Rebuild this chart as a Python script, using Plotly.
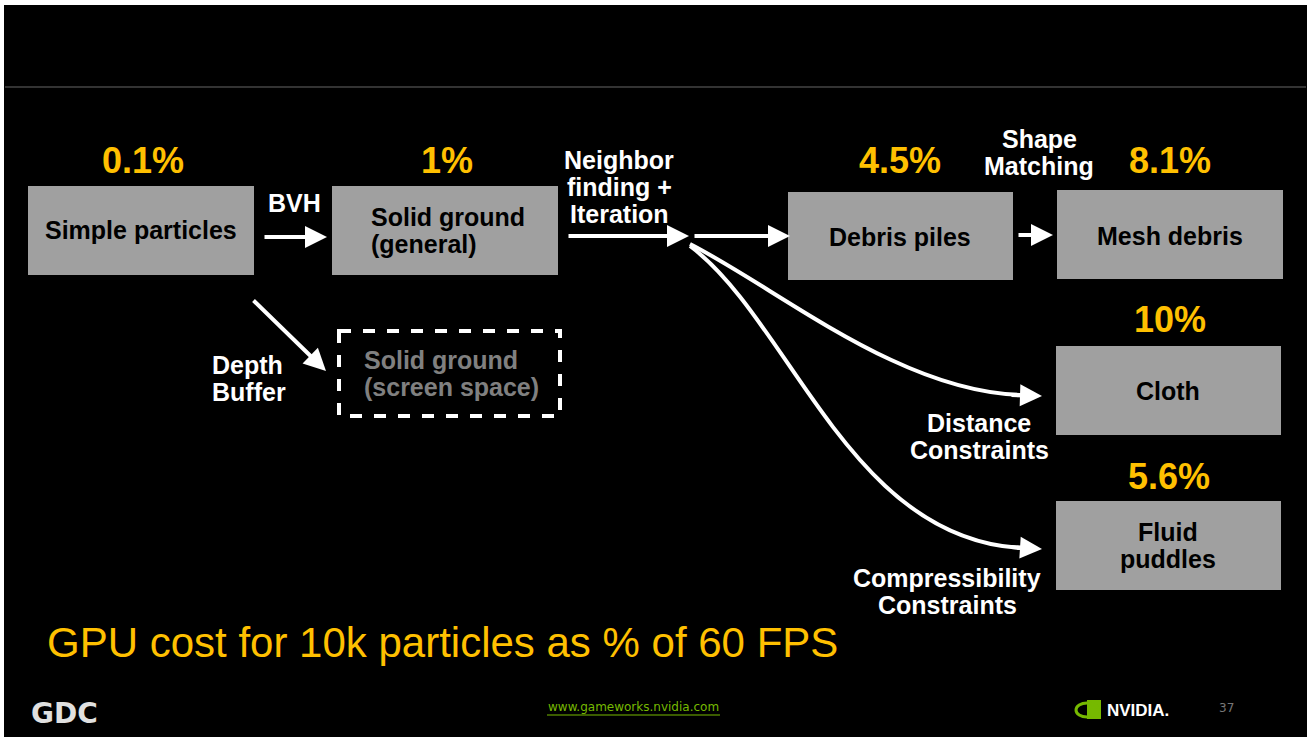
import plotly.graph_objects as go

# ---- data ----
stages = ["Simple particles", "Solid ground|(general)", "Debris piles",
          "Mesh debris", "Cloth", "Fluid|puddles"]
cost_pct = [0.1, 1, 4.5, 8.1, 10, 5.6]
edge_labels = ["BVH", "Neighbor|finding +|Iteration", "Shape|Matching",
               "Depth|Buffer", "Distance|Constraints", "Compressibility|Constraints"]
alt_stage = "Solid ground|(screen space)"
caption = "GPU cost for 10k particles as % of 60 FPS"
footer_url = "www.gameworks.nvidia.com"
page_no = "37"

# ---- layout geometry (pixels) ----
W, H = 1311, 737
box_rects = [(28, 186, 254, 275), (332, 186, 558, 275), (788, 192, 1013, 280),
             (1057, 190, 1283, 279), (1056, 346, 1281, 435), (1056, 501, 1281, 590)]
box_text_pos = [(141, 230, "center"), (369, 230, "left"), (900, 237, "center"),
                (1170, 236, "center"), (1168, 391, "center"), (1168, 545, "center")]
pct_pos = [(143, 160), (447, 160), (900, 160), (1170, 160), (1170, 319), (1169, 476)]
edge_label_pos = [(294, 203, "center"), (619, 160, "center"), (1039, 139, "center"),
                  (210, 365, "left"), (979, 423, "center"), (947, 578, "center")]
LINE = 27

BOX_GRAY = "#a0a0a0"
YEL = "#FFC000"
FONT = "Liberation Sans, Arial, sans-serif"
TXT = 25

fig = go.Figure()
fig.add_trace(go.Scatter(x=[0, W], y=[0, H], mode="markers",
                         marker=dict(opacity=0), hoverinfo="skip", showlegend=False))

shapes = []
ann = []

# slide background
shapes.append(dict(type="rect", xref="x", yref="y", x0=4, y0=5, x1=1307, y1=737,
                   fillcolor="black", line=dict(width=0), layer="below"))
shapes.append(dict(type="line", xref="x", yref="y", x0=5, y0=87, x1=1306, y1=87,
                   line=dict(color="#444444", width=1.5)))


def add_lines(text, x, y, align, size, color, bold=True, family=FONT, spacing=LINE):
    parts = text.split("|")
    n = len(parts)
    for i, p in enumerate(parts):
        yy = y + (i - (n - 1) / 2) * spacing
        ann.append(dict(x=x, y=yy, xref="x", yref="y", showarrow=False,
                        text=f"<b>{p}</b>" if bold else p,
                        xanchor="left" if align == "left" else "center", yanchor="middle",
                        font=dict(family=family, size=size, color=color)))


# boxes
for (x0, y0, x1, y1), label, (tx, ty, al), v, (px, py) in zip(
        box_rects, stages, box_text_pos, cost_pct, pct_pos):
    shapes.append(dict(type="rect", xref="x", yref="y", x0=x0, y0=y0, x1=x1, y1=y1,
                       fillcolor=BOX_GRAY, line=dict(width=0)))
    add_lines(label, tx, ty, al, TXT, "black")
    ann.append(dict(x=px, y=py, xref="x", yref="y", showarrow=False,
                    text=f"<b>{v:g}%</b>", xanchor="center", yanchor="middle",
                    font=dict(family=FONT, size=36, color=YEL)))

# dashed alternative box
shapes.append(dict(type="rect", xref="x", yref="y", x0=339, y0=331, x1=560, y1=416,
                   line=dict(color="white", width=4, dash="dash")))
add_lines(alt_stage, 362, 373, "left", TXT, "#808080")

# edge labels
for label, (x, y, al) in zip(edge_labels, edge_label_pos):
    parts = label.split("|")
    for i, p in enumerate(parts):
        ann.append(dict(x=x, y=y + i * LINE, xref="x", yref="y", showarrow=False,
                        text=f"<b>{p}</b>",
                        xanchor="left" if al == "left" else "center", yanchor="middle",
                        font=dict(family=FONT, size=TXT, color="white")))

# straight arrows (tail -> head)
straight = [((263, 237), (327, 237)), ((567, 236), (689, 236)),
            ((693, 236), (790, 236)), ((1017, 235), (1053, 235)),
            ((252, 299), (326, 371))]
for (tx, ty), (hx, hy) in straight:
    ann.append(dict(x=hx, y=hy, ax=tx, ay=ty, xref="x", yref="y", axref="x", ayref="y",
                    showarrow=True, arrowhead=2, arrowsize=1.1, arrowwidth=4,
                    arrowcolor="white", text=""))

# curved connectors
curves = [("M 690,244 C 780,290 900,392 1022,395", (1010, 395), (1042, 396)),
          ("M 690,246 C 790,320 850,540 1022,548", (1010, 547), (1042, 549))]
for path, tail, head in curves:
    shapes.append(dict(type="path", xref="x", yref="y", path=path,
                       line=dict(color="white", width=4)))
    ann.append(dict(x=head[0], y=head[1], ax=tail[0], ay=tail[1], xref="x", yref="y",
                    axref="x", ayref="y", showarrow=True, arrowhead=2, arrowsize=1.1,
                    arrowwidth=4, arrowcolor="white", text=""))

# caption
ann.append(dict(x=45, y=642, xref="x", yref="y", showarrow=False, text=caption,
                xanchor="left", yanchor="middle",
                font=dict(family=FONT, size=42, color=YEL)))

# footer
ann.append(dict(x=633, y=707, xref="x", yref="y", showarrow=False, text=footer_url,
                xanchor="center", yanchor="middle",
                font=dict(family="DejaVu Sans, sans-serif", size=12, color="#76b900")))
shapes.append(dict(type="line", xref="x", yref="y", x0=547, y0=715, x1=720, y1=715,
                   line=dict(color="#76b900", width=1)))
ann.append(dict(x=1226, y=708, xref="x", yref="y", showarrow=False, text=page_no,
                xanchor="center", yanchor="middle",
                font=dict(family="DejaVu Sans, sans-serif", size=12, color="#777777")))
# GDC logo
ann.append(dict(x=64, y=713, xref="x", yref="y", showarrow=False, text="<b>GDC</b>",
                xanchor="center", yanchor="middle",
                font=dict(family="DejaVu Sans, sans-serif", size=28, color="#e0e0e0")))
# NVIDIA logo
shapes.append(dict(type="rect", xref="x", yref="y", x0=1087, y0=700, x1=1101, y1=719,
                   fillcolor="#76b900", line=dict(width=0)))
shapes.append(dict(type="circle", xref="x", yref="y", x0=1076, y0=703, x1=1098, y1=717,
                   fillcolor="rgba(0,0,0,0)", line=dict(color="#76b900", width=3)))
ann.append(dict(x=1105, y=710, xref="x", yref="y", showarrow=False, text="<b>NVIDIA.</b>",
                xanchor="left", yanchor="middle",
                font=dict(family=FONT, size=17, color="white")))

fig.update_layout(
    width=W, height=H, margin=dict(l=0, r=0, t=0, b=0),
    paper_bgcolor="white", plot_bgcolor="white",
    xaxis=dict(range=[0, W], visible=False, fixedrange=True),
    yaxis=dict(range=[H, 0], visible=False, fixedrange=True),
    shapes=shapes, annotations=ann, showlegend=False,
)
fig.write_html("out.html", config={"displayModeBar": False})
